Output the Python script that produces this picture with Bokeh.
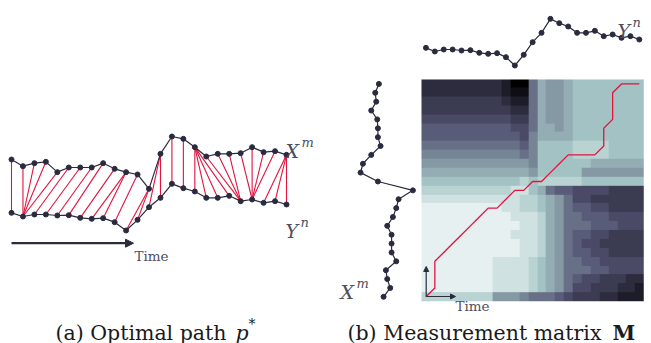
import numpy as np
from bokeh.plotting import figure
from bokeh.models import Range1d, LinearColorMapper, Label, Arrow, NormalHead
from bokeh.embed import file_html
from bokeh.resources import INLINE

# ---- data ----
X_vals = [13.3, 11.3, 12.2, 12.6, 9.5, 10.9, 10.9, 10.9, 12.2, 10.5, 9.5, 8.8, 4.5,
          15.0, 20.2, 19.5, 17.0, 14.2, 15.0, 15.0, 15.2, 17.0, 15.5, 15.8, 14.7]
Y_vals = [10.8, 9.7, 10.3, 10.3, 10.0, 10.1, 9.3, 9.0, 9.2, 8.0, 5.5, 8.7, 12.5,
          15.3, 19.5, 18.2, 17.2, 15.3, 15.3, 15.9, 14.3, 14.8, 13.8, 14.3, 13.3]
# optimal warping path (index into X, index into Y)
path_i = [0, 1, 2, 3, 4, 5, 6, 7, 8, 9, 10, 10, 11, 12, 12, 13, 13, 14, 15, 16, 16, 16, 16,
          17, 18, 19, 20, 21, 22, 23, 24, 24, 24]
path_j = [0, 1, 1, 1, 1, 2, 3, 4, 5, 6, 7, 8, 9, 10, 11, 12, 13, 14, 15, 16, 17, 18, 19,
          20, 20, 20, 21, 21, 21, 21, 22, 23, 24]
# measurement matrix, shade levels 0 (light) .. f (dark), hex digits;
# rows listed top (X index 24) to bottom (X index 0), columns Y index 0..24
M_rows_top_down = [
    "cccccccccdff8566544444444",
    "cccccccccdee8566544444444",
    "bbbbbbbbbcdd8566544444444",
    "bbbbbbbbbbcc8566544444444",
    "aaaaaaaaaabb8566544444444",
    "9999999999aa8556544444444",
    "99999999999a7555544444444",
    "8888888888897444433334444",
    "7777777777787444433334444",
    "6666666666667444444555555",
    "5555555555556444446666666",
    "4444444444434333334444444",
    "33333333332245899aaaabbbb",
    "22222222222334568aabbbbbb",
    "1111111112233456899aabbbb",
    "111111111122235688999aaaa",
    "1111111111122356888999aaa",
    "1111111111222356899aabbbb",
    "111111111112235689aabbbbb",
    "1111111111122356899aabbbb",
    "11111111222234568899aaaaa",
    "111111112222345688899aaaa",
    "111111112222345689aabbbcc",
    "11111111222234568aabbbccd",
    "3333333366678889abbbccddd",
]

W, H = 651, 343
NAVY = "#2b2b40"
RED = "#e2133f"
LABEL = "#4e4e5e"
SERIF = "DejaVu Serif"

# layout constants (pixels)
a_x0, a_dx = 11.0, 11.458          # panel a: time index -> px
v_px = 3.333                       # px per value unit
a_X_zero = 203.33                  # panel a: top-based px of value 0 for X
a_Y_shift = 13.5                   # panel a: Y drawn lower by this many units
b_x0, b_dx = 425.45, 8.89          # panel b: column index -> px
b_y0, b_dy = 296.3, 8.87           # panel b: row index -> top-based px
b_top_zero = 83.33                 # panel b: top series, top-based px of value 0
b_left_zero = 427.4                # panel b: left series, px of value 0

p = figure(width=W, height=H, output_backend="svg", toolbar_location=None,
           x_range=Range1d(0, W), y_range=Range1d(H, 0), min_border=0)
p.axis.visible = False
p.grid.visible = False
p.outline_line_color = None
p.background_fill_color = "white"
p.border_fill_color = "white"

p.extra_x_ranges = {
    "ax": Range1d(-a_x0 / a_dx, (W - a_x0) / a_dx),
    "bx": Range1d(-b_x0 / b_dx, (W - b_x0) / b_dx),
    "bxv": Range1d(b_left_zero / v_px, (b_left_zero - W) / v_px),
}
p.extra_y_ranges = {
    "ay": Range1d((a_X_zero - H) / v_px, a_X_zero / v_px),
    "by": Range1d((b_y0 - H) / b_dy, b_y0 / b_dy),
    "byv": Range1d((b_top_zero - H) / v_px, b_top_zero / v_px),
}

X = np.array(X_vals)
Y = np.array(Y_vals)
n = len(X)
idx = np.arange(n)
pi = np.array(path_i)
pj = np.array(path_j)

# ---------- panel (a) ----------
p.segment(x0=pi, y0=X[pi], x1=pj, y1=Y[pj] - a_Y_shift, line_color=RED, line_width=1.1,
          x_range_name="ax", y_range_name="ay")
for ser in (X, Y - a_Y_shift):
    p.line(idx, ser, line_color=NAVY, line_width=1.2, x_range_name="ax", y_range_name="ay")
    p.scatter(idx, ser, size=5, color=NAVY, x_range_name="ax", y_range_name="ay")

# ---------- panel (b) ----------
def bone(t):
    r = np.interp(t, [0, 0.746032, 1], [0, 0.652778, 1])
    g = np.interp(t, [0, 0.365079, 0.746032, 1], [0, 0.319444, 0.777778, 1])
    b = np.interp(t, [0, 0.365079, 1], [0, 0.444444, 1])
    return "#%02x%02x%02x" % (int(r * 255), int(g * 255), int(b * 255))

palette = [bone(1 - k / 15) for k in range(16)]
mapper = LinearColorMapper(palette=palette, low=-0.5, high=15.5)
rows = [[int(c, 16) for c in row[:n].ljust(n, row[-1])] for row in M_rows_top_down[::-1]]
M = np.array(rows, dtype=float)
p.image(image=[M], x=-0.5, y=-0.5, dw=n, dh=n, color_mapper=mapper,
        x_range_name="bx", y_range_name="by")
p.line(pj, pi, line_color=RED, line_width=1.3, x_range_name="bx", y_range_name="by")

# top series (Y) along columns
p.line(idx, Y, line_color=NAVY, line_width=1.2, x_range_name="bx", y_range_name="byv")
p.scatter(idx, Y, size=5, color=NAVY, x_range_name="bx", y_range_name="byv")
# left series (X) along rows
p.line(X, idx, line_color=NAVY, line_width=1.2, x_range_name="bxv", y_range_name="by")
p.scatter(X, idx, size=5, color=NAVY, x_range_name="bxv", y_range_name="by")

# arrows
p.add_layout(Arrow(x_start=11, y_start=242.7, x_end=133, y_end=242.7, line_color=NAVY,
                   line_width=2.2, end=NormalHead(size=8, fill_color=NAVY, line_color=NAVY)))
p.add_layout(Arrow(x_start=425.7, y_start=296, x_end=425.7, y_end=266, line_color=NAVY,
                   line_width=1.2, end=NormalHead(size=5, fill_color=NAVY, line_color=NAVY)))
p.add_layout(Arrow(x_start=425.7, y_start=296, x_end=455, y_end=296, line_color=NAVY,
                   line_width=1.2, end=NormalHead(size=5, fill_color=NAVY, line_color=NAVY)))

def lab(x, y, text, size, color=LABEL, style="normal", align="left"):
    p.add_layout(Label(x=x, y=y, text=text, text_font=SERIF,
                       text_font_size=f"{size}px", text_font_style=style,
                       text_color=color, text_align=align, text_baseline="alphabetic"))

# series labels
lab(285, 150, "X", 19, style="italic"); lab(301, 142, "m", 13, style="italic")
lab(285, 230, "Y", 19, style="italic"); lab(300, 222, "n", 13, style="italic")
lab(617, 30, "Y", 19, style="italic"); lab(632, 22, "n", 13, style="italic")
lab(340, 291, "X", 19, style="italic"); lab(356, 283, "m", 13, style="italic")
lab(134, 255, "Time", 13.5)
lab(455, 305, "Time", 13.5)

# captions
CAP = "#1a1a1a"
lab(55, 332, "(a) Optimal path", 20.5, color=CAP)
lab(235, 332, "p", 20.5, color=CAP, style="italic")
lab(248, 323, "*", 14, color=CAP)
lab(347, 332, "(b) Measurement matrix", 20.5, color=CAP)
lab(612, 332, "M", 20.5, color=CAP, style="bold")

open("out.html", "w").write(file_html(p, INLINE))
